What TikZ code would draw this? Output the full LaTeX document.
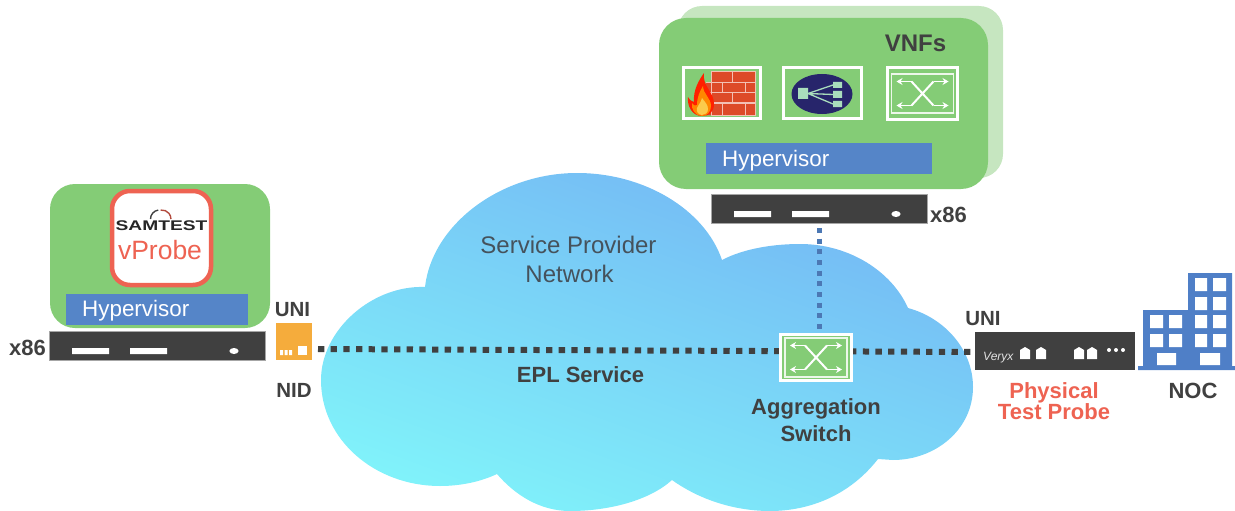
\documentclass[tikz,border=0pt]{standalone}
\usepackage{fontspec}
\setmainfont{Liberation Sans}
\usetikzlibrary{arrows.meta}
\definecolor{gr}{HTML}{84CC76}
\definecolor{grb}{HTML}{C6E6C0}
\definecolor{bl}{HTML}{5585C8}
\definecolor{dk}{HTML}{404040}
\definecolor{rd}{HTML}{EE6352}
\definecolor{navy}{HTML}{27256B}
\definecolor{brick}{HTML}{DD4A28}
\definecolor{lbg}{HTML}{A9DDBC}
\definecolor{nocb}{HTML}{4F7FC7}
\definecolor{org}{HTML}{F5AC3C}
\definecolor{cltop}{HTML}{74B6F4}
\definecolor{clbot}{HTML}{80F2FA}
\definecolor{cltxt}{HTML}{45525C}
\tikzset{
  lbl/.style={anchor=base,inner sep=0pt,text=dk,font=\fontsize{22}{22}\selectfont\bfseries},
  unilbl/.style={lbl,font=\fontsize{20.5}{22}\selectfont\bfseries},
  redlbl/.style={lbl,text=rd},
  hyptxt/.style={anchor=base west,inner sep=0pt,text=white,font=\fontsize{22.4}{22}\selectfont},
  cloudtxt/.style={anchor=base,inner sep=0pt,text=cltxt,font=\fontsize{24}{24}\selectfont},
  block/.style={draw=none,inner sep=0pt,outer sep=0pt,anchor=north west},
  srvblock/.style={block,fill=dk,draw=gray!70,line width=.5pt},
  dots/.style={draw=dk,line width=6pt,dash pattern=on 6.3pt off 6.37pt},
  vdots/.style={draw=bl!90!black,line width=5pt,dash pattern=on 5pt off 5.67pt},
  iconbox/.style={draw=white,line width=3pt,inner sep=0pt,outer sep=0pt,anchor=north west},
  win/.style={fill=white,draw=none},
  swarrow/.style={draw=white,line width=1.8pt,-{Stealth[length=6pt,width=7pt]}},
  pics/swicon/.style={code={
    \draw[white!85!gr,line width=1.1pt] (-31,-19.5) rectangle (31,19.5);
    \draw[swarrow] (-11,-12) -- (-26,-12);
    \draw[swarrow] (-11,12) -- (-26,12);
    \draw[swarrow] (11,-12) -- (26,-12);
    \draw[swarrow] (11,12) -- (26,12);
    \draw[white,line width=2pt] (-11,-12) -- (11,12) (-11,12) -- (11,-12);
  }},
  pics/srv/.style={code={
    \fill[white] (23,17) rectangle (60,23) (81,17) rectangle (118,23);
    \fill[white] (185,20) ellipse (4.6 and 3);
  }}
}
\begin{document}
\begin{tikzpicture}[x=1pt,y=-1pt]
\useasboundingbox (0,0) rectangle (1235,511);
% cloud
\shade[top color=cltop,bottom color=clbot,shading angle=-20]
 (321,380) .. controls (321,330) and (372,285) .. (425,287)
 .. controls (432,225) and (500,173) .. (577,173)
 .. controls (645,173) and (705,210) .. (722,260)
 .. controls (745,248) and (775,244) .. (800,244)
 .. controls (850,244) and (892,272) .. (908,308)
 .. controls (945,318) and (973,350) .. (973,387)
 .. controls (973,430) and (935,460) .. (893,460)
 -- (878,459)
 .. controls (850,495) and (810,511) .. (770,511)
 .. controls (735,511) and (700,500) .. (672,480)
 .. controls (650,500) and (610,511) .. (570,511)
 .. controls (540,511) and (515,495) .. (497,474)
 .. controls (480,482) and (460,486) .. (440,486)
 .. controls (375,486) and (321,440) .. (321,380) -- cycle;
% VNF host
\fill[grb,rounded corners=24pt] (678,6) rectangle (1003,178);
\fill[gr,rounded corners=27pt] (659,18) rectangle (988,189);
\node[lbl,font=\fontsize{24}{24}\selectfont\bfseries] (vnfs) at (915.5,52) {VNFs};
\node[block,fill=bl,minimum width=226pt,minimum height=31pt] (hyp2) at (706,143) {};
\node[hyptxt] (hyp2t) at (722,166) {Hypervisor};
\node[srvblock,minimum width=216pt,minimum height=29pt] (srv2) at (711,194) {};
\pic at (711,194) {srv};
\node[lbl,anchor=base west] (x862) at (930,222) {x86};
% firewall
\node[iconbox,minimum width=77pt,minimum height=51pt] (fw) at (683.5,67.5) {};
\fill[brick] (711,72) rectangle (755,83) (706,83) rectangle (755,93) (706,93) rectangle (755,103) (706,103) rectangle (755,115);
\draw[white!65!brick,line width=1pt]
  (711,72) rectangle (755,115)
  (706,83) -- (755,83) (706,93) -- (755,93) (706,103) -- (755,103)
  (732,72) -- (732,83) (722,83) -- (722,93) (745,83) -- (745,93)
  (732,93) -- (732,103) (722,103) -- (722,115) (745,103) -- (745,115);
\fill[red!75!orange] (702,116) .. controls (692,116) and (687,106) .. (688,97)
  .. controls (690,100) and (692,102) .. (694,102) .. controls (693,90) and (699,80) .. (704,73)
  .. controls (702,86) and (714,92) .. (714,104) .. controls (714,112) and (709,116) .. (702,116) -- cycle;
\fill[orange!95!yellow] (702,116) .. controls (695,116) and (691,109) .. (692,103)
  .. controls (694,106) and (696,106) .. (697,105) .. controls (697,97) and (700,91) .. (703,86)
  .. controls (703,94) and (711,98) .. (711,106) .. controls (711,112) and (707,116) .. (702,116) -- cycle;
\fill[yellow!45!orange!70!white] (702,115) .. controls (698,115) and (696,111) .. (697,108)
  .. controls (699,104) and (701,102) .. (702,98) .. controls (705,102) and (708,105) .. (708,109)
  .. controls (708,113) and (705,115) .. (702,115) -- cycle;
% load balancer
\node[iconbox,minimum width=78pt,minimum height=51pt] (lb) at (783,67.5) {};
\fill[navy] (822,94) ellipse (30.5 and 20);
\fill[lbg] (798,88) rectangle (808,99) (833,82) rectangle (842,88) (833,91) rectangle (842,98) (833,101) rectangle (842,107);
\draw[lbg,line width=1.3pt] (808,93.5) -- (833,85) (808,93.5) -- (833,94.5) (808,93.5) -- (833,104);
% vnf switch
\node[iconbox,minimum width=70pt,minimum height=52pt] (swv) at (887.5,67.5) {};
\pic at (922.5,93.5) {swicon};
% left host
\fill[gr,rounded corners=25pt] (50,184) rectangle (270,328);
\node[draw=rd,line width=4.5pt,fill=white,rounded corners=18pt,minimum width=99pt,minimum height=94pt,inner sep=0pt,outer sep=0pt,anchor=north west] (vp) at (112,191) {};
\draw[dk,line width=1.4pt] (150.5,219) arc (180:262:9);
\draw[rd!75!black,line width=1.4pt] (160.7,210.1) arc (262:360:9);
\node[anchor=base,inner sep=0pt,text=black!85] (sam) at (161.5,230) {\scalebox{1.37}[1]{\fontsize{14}{14}\selectfont\bfseries SAMTEST}};
\node[anchor=base,inner sep=0pt,text=rd,font=\fontsize{26.5}{27}\selectfont] (vpt) at (160,259) {vProbe};
\node[block,fill=bl,minimum width=182pt,minimum height=31pt] (hyp1) at (66,294) {};
\node[hyptxt] (hyp1t) at (82,316) {Hypervisor};
\node[srvblock,minimum width=216pt,minimum height=29pt] (srv1) at (49,331) {};
\pic at (49,331) {srv};
\node[lbl,anchor=base west] (x861) at (9,355) {x86};
\node[unilbl] (uni1) at (292.5,316) {UNI};
\node[block,fill=org,minimum width=36pt,minimum height=37pt] (nid) at (276,323) {};
\fill[white] (298,346) rectangle (307,355);
\fill[white] (280,350) rectangle (283,355) (284.5,350) rectangle (287.5,355) (289,350) rectangle (292,355);
\node[unilbl] (nidt) at (294,397) {NID};
% probe
\node[block,fill=dk,minimum width=160pt,minimum height=38pt] (probe) at (975,332) {};
\node[anchor=base west,inner sep=0pt,text=white!85!dk,font=\fontsize{12}{12}\selectfont\itshape] (vx) at (983,360) {Veryx};
\foreach \px in {1020,1036,1074,1087} {
  \fill[white] (\px,359) -- (\px,350) -- (\px+5,347) -- (\px+10,350) -- (\px+10,359) -- cycle;
}
\foreach \px in {1109,1116,1123} { \fill[white] (\px,350) circle (2); }
\node[unilbl] (uni2) at (983,325) {UNI};
\node[redlbl] (pp1) at (1054,398) {Physical};
\node[redlbl] (pp2) at (1054,419) {Test Probe};
% NOC
\fill[nocb] (1188,273) rectangle (1232,368) (1143,310) rectangle (1188,368) (1138,366) rectangle (1235,370);
\foreach \wy in {278,297,315,334} { \fill[win] (1195,\wy) rectangle +(12,13) (1213,\wy) rectangle +(13,13); }
\foreach \wy in {315,334} { \fill[win] (1150,\wy) rectangle +(13,13) (1169,\wy) rectangle +(13,13); }
\fill[win] (1200,353) rectangle (1220,365) (1157,353) rectangle (1176,365);
\node[lbl] (noc) at (1193,398) {NOC};
% long connector, passing behind the aggregation switch
\draw[dots] ([xshift=6pt,yshift=-7.5pt]nid.east) -- ([yshift=-1pt]probe.west);
% aggregation switch
\node[block,fill=gr,draw=white,line width=3pt,minimum width=71pt,minimum height=46pt] (sw) at (780.5,334.5) {};
\pic at (816,357.5) {swicon};
\draw[vdots] ([yshift=-5pt]srv2.south) -- (sw.north -| srv2.south);
% cloud labels
\node[cloudtxt] (spn1) at (568.5,253) {Service Provider};
\node[cloudtxt] (spn2) at (569.5,282) {Network};
\node[lbl] (epl) at (580.5,382) {EPL Service};
\node[lbl] (agg1) at (816,414) {Aggregation};
\node[lbl] (agg2) at (816,441) {Switch};
\end{tikzpicture}
\end{document}
